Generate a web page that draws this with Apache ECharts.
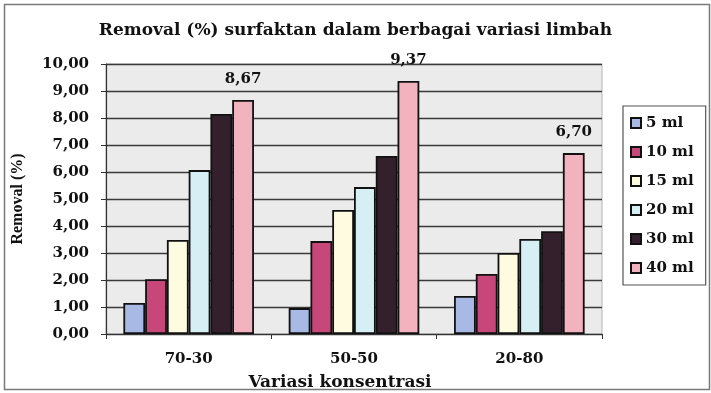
<!DOCTYPE html>
<html>
<head>
<meta charset="utf-8">
<script src="https://cdn.jsdelivr.net/npm/echarts@6/dist/echarts.min.js"></script>
<style>
  html, body { margin: 0; padding: 0; background: #ffffff; }
  #chart { width: 711px; height: 393px; }
</style>
</head>
<body>
<div id="chart"></div>
<script>
// Waste mix ratios on the category axis
const categories = ['70-30', '50-50', '20-80'];

// Surfactant removal (%) per dose
const seriesNames = ['5 ml', '10 ml', '15 ml', '20 ml', '30 ml', '40 ml'];
const removal5 = [1.15, 0.96, 1.41];
const removal10 = [2.03, 3.44, 2.22];
const removal15 = [3.48, 4.59, 3.00];
const removal20 = [6.07, 5.44, 3.52];
const removal30 = [8.15, 6.59, 3.81];
const removal40 = [8.67, 9.37, 6.70];

const seriesValues = [removal5, removal10, removal15, removal20, removal30, removal40];
const seriesColors = ['#a9b9e6', '#c8477b', '#fffbe0', '#d6eff5', '#34202d', '#f3b3be'];

const serif = '"DejaVu Serif", "Liberation Serif", serif';
const comma = v => Number(v).toFixed(2).replace('.', ',');

const chart = echarts.init(document.getElementById('chart'), null, { renderer: 'canvas' });

const series = seriesValues.map((vals, i) => ({
  name: seriesNames[i],
  type: 'bar',
  data: vals,
  barGap: '0%',
  barCategoryGap: '21%',
  itemStyle: { color: seriesColors[i], borderColor: '#111111', borderWidth: 1.8 },
  label: i === seriesValues.length - 1 ? {
    show: true,
    position: 'top',
    distance: 13,
    formatter: p => comma(p.value),
    fontFamily: serif,
    fontWeight: 'bold',
    fontSize: 15,
    color: '#111'
  } : { show: false }
}));

chart.setOption({
  animation: false,
  backgroundColor: '#ffffff',
  graphic: [{
    type: 'rect',
    shape: { x: 4.5, y: 4.5, width: 705, height: 385 },
    style: { fill: 'none', stroke: '#7a7a7a', lineWidth: 1.5 },
    z: -10
  }],
  title: {
    text: 'Removal (%) surfaktan dalam berbagai variasi limbah',
    left: 'center',
    top: 17,
    textStyle: { fontFamily: serif, fontWeight: 'bold', fontSize: 17, color: '#111' }
  },
  legend: {
    orient: 'vertical',
    left: 623,
    top: 106,
    padding: [9, 12, 9, 7],
    itemGap: 13,
    itemWidth: 10,
    itemHeight: 10,
    icon: 'rect',
    borderColor: '#555',
    borderWidth: 1.2,
    backgroundColor: '#ffffff',
    textStyle: { fontFamily: serif, fontWeight: 'bold', fontSize: 15, color: '#111', lineHeight: 16 },
    data: seriesNames
  },
  grid: {
    left: 106, right: 109, top: 64, bottom: 59,
    outerBoundsMode: 'none',
    containLabel: false,
    show: true,
    backgroundColor: '#ebebeb',
    borderColor: '#b5b5b5',
    borderWidth: 1
  },
  xAxis: {
    type: 'category',
    data: categories,
    name: 'Variasi konsentrasi',
    nameLocation: 'middle',
    nameGap: 40,
    nameTextStyle: { fontFamily: serif, fontWeight: 'bold', fontSize: 17, color: '#111', padding: [0, 28, 0, 0] },
    axisLine: { lineStyle: { color: '#333', width: 1.2 } },
    axisTick: { show: true, length: 5, lineStyle: { color: '#333' } },
    axisLabel: { fontFamily: serif, fontWeight: 'bold', fontSize: 15, color: '#111', margin: 18 }
  },
  yAxis: {
    type: 'value',
    min: 0,
    max: 10,
    interval: 1,
    name: 'Removal (%)',
    nameLocation: 'middle',
    nameGap: 80,
    nameTextStyle: { fontFamily: '"Liberation Serif", serif', fontWeight: 'bold', fontSize: 16, color: '#111' },
    axisLine: { show: true, lineStyle: { color: '#333', width: 1.2 } },
    axisTick: { show: true, length: 5, lineStyle: { color: '#333' } },
    axisLabel: { fontFamily: serif, fontWeight: 'bold', fontSize: 15, color: '#111', margin: 17, formatter: v => comma(v) },
    splitLine: { lineStyle: { color: '#3a3a3a', width: 1.3 } }
  },
  series: series
});
</script>
</body>
</html>
